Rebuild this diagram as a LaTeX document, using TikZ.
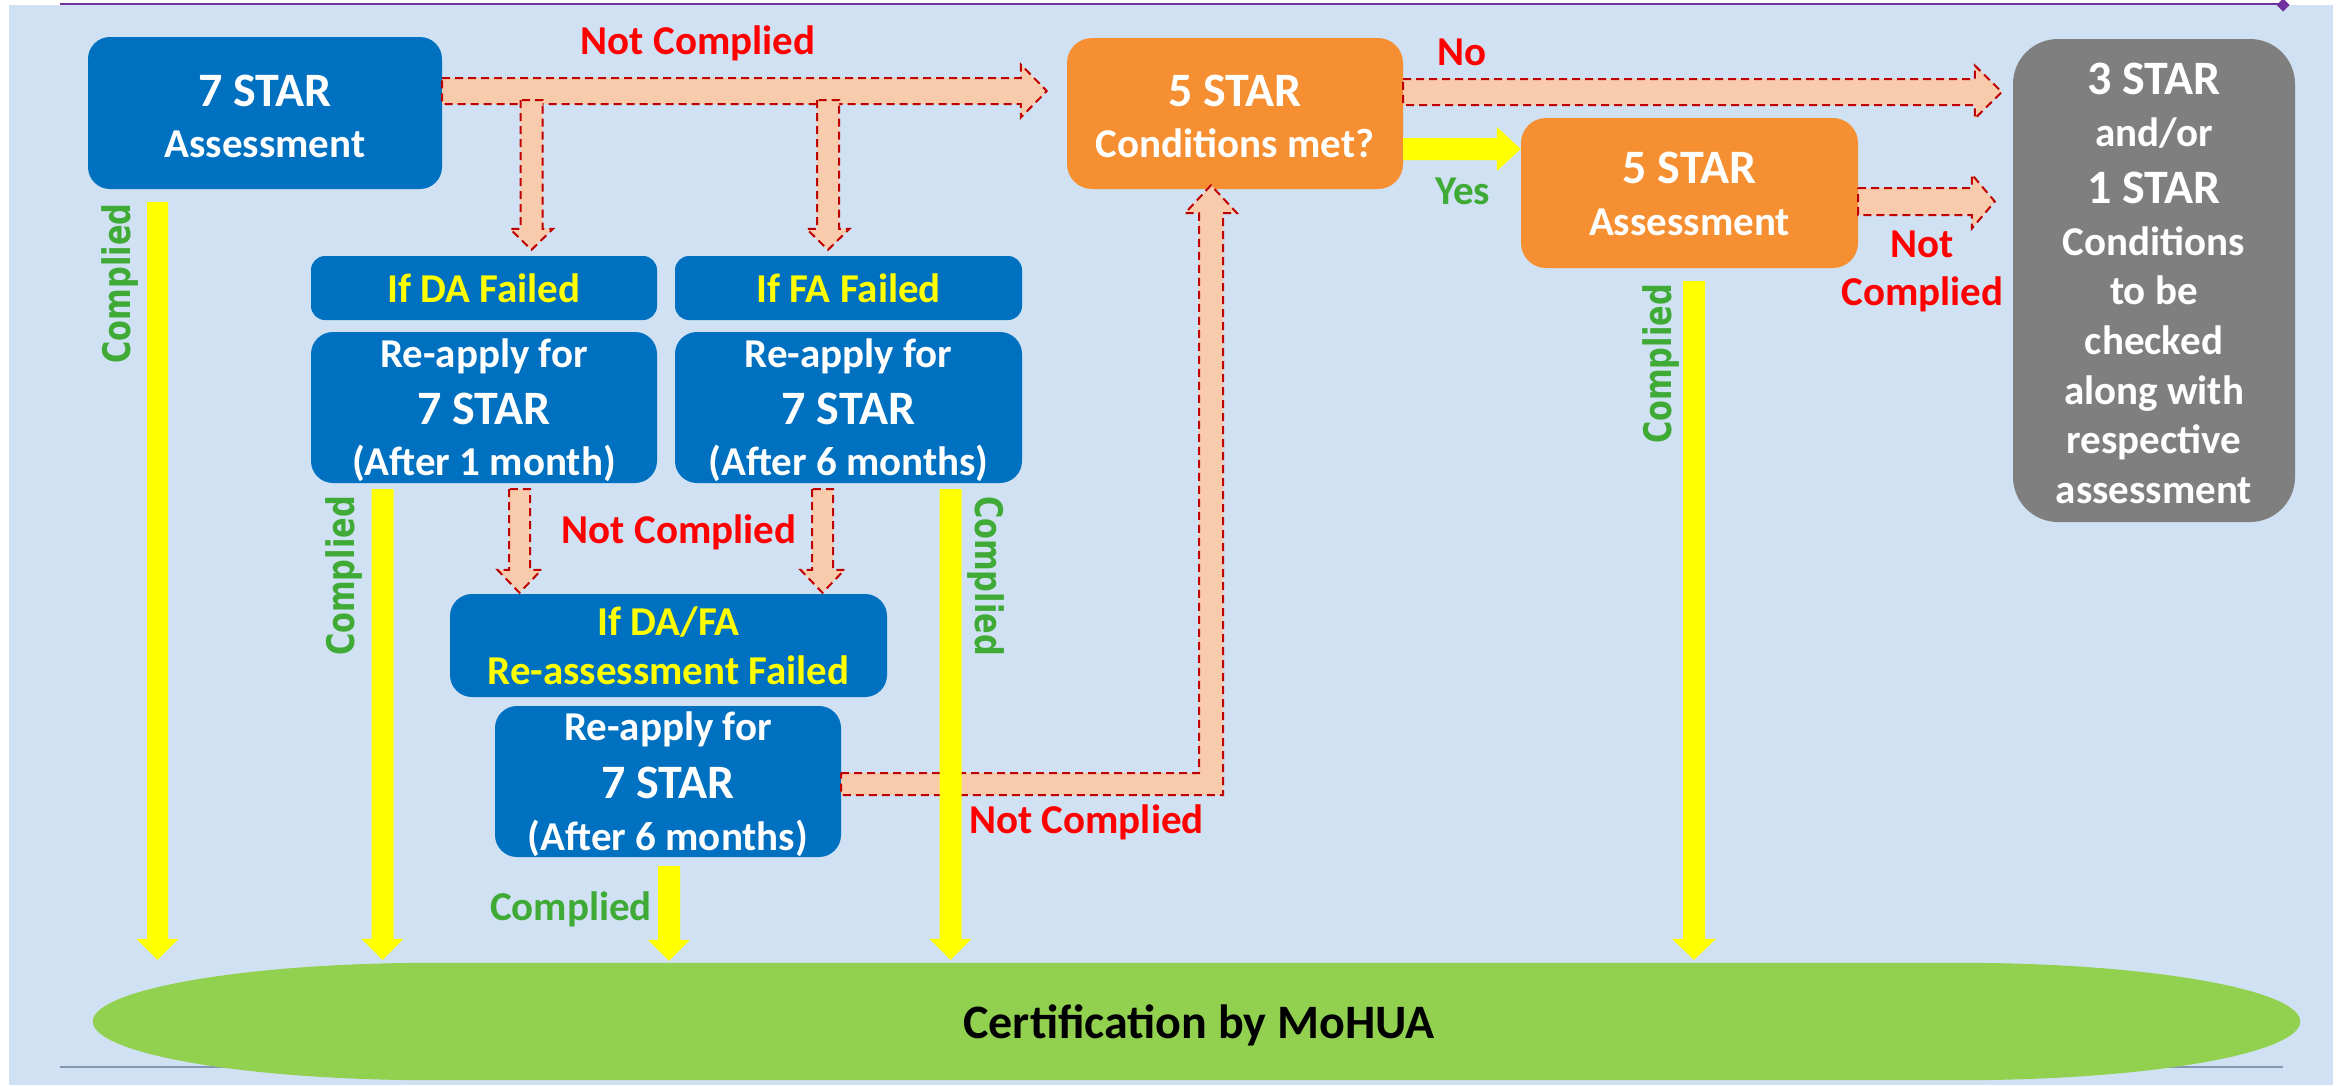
\documentclass[tikz,border=0pt]{standalone}
\usepackage{fontspec}
\setmainfont{Carlito}
\newfontfamily\rotfont[FakeStretch=0.8]{DejaVu Sans}
\usetikzlibrary{calc}
\definecolor{bgblue}{HTML}{CFE1F2}
\definecolor{boxblue}{HTML}{0070C0}
\definecolor{boxorange}{HTML}{F58F31}
\definecolor{boxgray}{HTML}{7F7F7F}
\definecolor{certgreen}{HTML}{92D050}
\definecolor{peach}{HTML}{F8CBAD}
\definecolor{dashred}{HTML}{C00000}
\definecolor{lblred}{HTML}{FF0000}
\definecolor{lblgreen}{HTML}{3FAA35}
\definecolor{ylw}{HTML}{FFFF00}
\definecolor{purp}{HTML}{7030A0}
\definecolor{lineblue}{HTML}{8497B0}

\newcommand{\BlkR}[6]{%
  \path[#1] ($(#2)+(0,-#4)$) -- ($(#2 -| #3)+(-#6,-#4)$) -- ($(#2 -| #3)+(-#6,-#5)$) -- (#2 -| #3) -- ($(#2 -| #3)+(-#6,#5)$) -- ($(#2 -| #3)+(-#6,#4)$) -- ($(#2)+(0,#4)$) -- cycle;}
\newcommand{\BlkD}[6]{%
  \path[#1] ($(#2)+(-#4,0)$) -- ($(#2 |- #3)+(-#4,-#6)$) -- ($(#2 |- #3)+(-#5,-#6)$) -- (#2 |- #3) -- ($(#2 |- #3)+(#5,-#6)$) -- ($(#2 |- #3)+(#4,-#6)$) -- ($(#2)+(#4,0)$) -- cycle;}

\tikzset{
  shapebox/.style={rectangle, inner sep=0pt, draw=none},
  bluebox/.style={shapebox, fill=boxblue, rounded corners=22pt},
  failbox/.style={shapebox, fill=boxblue, rounded corners=14pt},
  orangebox/.style={shapebox, fill=boxorange, rounded corners=25pt},
  graybox/.style={shapebox, fill=boxgray, rounded corners=45pt},
  tbig/.style={anchor=base, inner sep=0pt, text=white, font=\bfseries\fontsize{48}{50}\selectfont},
  tmed/.style={anchor=base, inner sep=0pt, text=white, font=\bfseries\fontsize{41}{43}\selectfont},
  rotlbl/.style={anchor=center, inner sep=0pt, text=lblgreen, font=\rotfont\bfseries\fontsize{38}{38}\selectfont},
  peacharr/.style={fill=peach, draw=dashred, line width=2pt, dash pattern=on 8pt off 5pt, line join=miter},
  yarr/.style={fill=ylw, draw=none}
}

\begin{document}
\begin{tikzpicture}[x=1pt,y=-1pt]
\useasboundingbox (0,0) rectangle (2346,1085);
\fill[white] (0,0) rectangle (2346,1085);
\fill[bgblue] (9,5) rectangle (2333,1085);
\draw[purp, line width=2.5pt] (60,4) -- (2283,4);
\fill[purp] (2283,-1.5) -- (2289.5,5) -- (2283,11.5) -- (2276.5,5) -- cycle;
\draw[lineblue, line width=2.5pt] (60,1067) -- (2283,1067);

% certification terminator
\node[shapebox, minimum width=2207pt, minimum height=117pt] (cert) at (1196.5,1021.5) {};
\fill[certgreen] ($(cert.north west)+(340,0)$) -- ($(cert.north east)+(-340,0)$)
  .. controls ($(cert.north east)+(-152,0)$) and ($(cert.east)+(0,-32)$) .. (cert.east)
  .. controls ($(cert.east)+(0,32)$) and ($(cert.south east)+(-152,0)$) .. ($(cert.south east)+(-340,0)$)
  -- ($(cert.south west)+(340,0)$)
  .. controls ($(cert.south west)+(152,0)$) and ($(cert.west)+(0,32)$) .. (cert.west)
  .. controls ($(cert.west)+(0,-32)$) and ($(cert.north west)+(152,0)$) .. cycle;
\node[tbig, text=black] (certtxt) at (1199,1038) {Certification by MoHUA};

% boxes
\node[bluebox, minimum width=354pt, minimum height=152pt] (a7) at (265,113) {};
\node[orangebox, minimum width=336pt, minimum height=151pt] (c5) at (1235,113.5) {};
\node[orangebox, minimum width=337pt, minimum height=150pt] (a5) at (1689.5,193) {};
\node[graybox, minimum width=282pt, minimum height=483pt] (g) at (2154,280.5) {};
\node[failbox, minimum width=346pt, minimum height=64pt] (dfail) at (484,288) {};
\node[failbox, minimum width=347pt, minimum height=64pt] (ffail) at (848.5,288) {};
\node[bluebox, minimum width=346pt, minimum height=151pt] (rda) at (484,407.5) {};
\node[bluebox, minimum width=347pt, minimum height=151pt] (rfa) at (848.5,407.5) {};
\node[bluebox, minimum width=437pt, minimum height=103pt] (dffail) at (668.5,645.5) {};
\node[bluebox, minimum width=346pt, minimum height=151pt] (r3) at (668,781.5) {};

% dashed block arrows
\coordinate (nc1s) at (a7.east |- 0,91);
\coordinate (nc1t) at ($(c5.west |- 0,91)+(-20,0)$);
\BlkR{peacharr}{nc1s}{nc1t}{13}{26.5}{26}
\coordinate (b1s) at (531.5,100);
\coordinate (b1t) at ($(b1s |- dfail.north)+(0,-6)$);
\BlkD{peacharr}{b1s}{b1t}{11}{21.5}{21}
\coordinate (b2s) at (828,100);
\coordinate (b2t) at ($(b2s |- ffail.north)+(0,-6)$);
\BlkD{peacharr}{b2s}{b2t}{11}{21.5}{21}
\coordinate (n1s) at ($(rda.south)+(35.5,6)$);
\coordinate (n1t) at ($(n1s |- dffail.north)+(0,-1)$);
\BlkD{peacharr}{n1s}{n1t}{10.5}{22}{23}
\coordinate (n2s) at ($(rfa.south)+(-26,6)$);
\coordinate (n2t) at ($(n2s |- dffail.north)+(0,-1)$);
\BlkD{peacharr}{n2s}{n2t}{10.5}{22}{23}
\coordinate (nos) at (c5.east |- 0,92);
\coordinate (not) at ($(g.west |- 0,92)+(-11,0)$);
\BlkR{peacharr}{nos}{not}{13}{26.5}{27}
\coordinate (nc2s) at (a5.east |- 0,201.5);
\coordinate (nc2t) at ($(g.west |- 0,201.5)+(-18,0)$);
\BlkR{peacharr}{nc2s}{nc2t}{13.5}{27}{23}
\coordinate (las) at (r3.east |- 0,784);
\coordinate (lat) at ($(c5.south)+(-24,-4)$);
\path[peacharr] ($(las)+(0,-11)$) -- ($(las -| lat)+(-12,-11)$) -- ($(lat)+(-12,28)$) -- ($(lat)+(-26,28)$) -- (lat) -- ($(lat)+(26,28)$) -- ($(lat)+(12,28)$) -- ($(las -| lat)+(12,11)$) -- ($(las)+(0,11)$) -- cycle;

% yellow arrows
\coordinate (ys) at (c5.east |- 0,149);
\coordinate (yt) at (a5.west |- 0,149);
\BlkR{yarr}{ys}{yt}{11}{22}{24}
\coordinate (y1s) at ($(a7.south -| 157.5,0)+(0,13)$);
\coordinate (y1t) at ($(y1s |- cert.north)+(0,-3)$);
\BlkD{yarr}{y1s}{y1t}{10.5}{21}{21}
\coordinate (y2s) at ($(rda.south -| 382.5,0)+(0,6)$);
\coordinate (y2t) at ($(y2s |- cert.north)+(0,-3)$);
\BlkD{yarr}{y2s}{y2t}{11}{21}{21}
\coordinate (y3s) at ($(r3.south -| 669,0)+(0,9)$);
\coordinate (y3t) at ($(y3s |- cert.north)+(0,-2)$);
\BlkD{yarr}{y3s}{y3t}{11}{21}{21}
\coordinate (y4s) at ($(rfa.south -| 950.5,0)+(0,6)$);
\coordinate (y4t) at ($(y4s |- cert.north)+(0,-3)$);
\BlkD{yarr}{y4s}{y4t}{11}{21}{21}
\coordinate (y5s) at ($(a5.south -| 1694,0)+(0,13)$);
\coordinate (y5t) at ($(y5s |- cert.north)+(0,-3)$);
\BlkD{yarr}{y5s}{y5t}{11}{22}{21}

% box texts
\node[tbig] (a7t1) at (265,106) {7 STAR};
\node[tmed] (a7t2) at (265,157) {Assessment};
\node[tbig] (c5t1) at (1235,106) {5 STAR};
\node[tmed] (c5t2) at (1235,157) {Conditions met?};
\node[tbig] (a5t1) at (1689.5,183) {5 STAR};
\node[tmed] (a5t2) at (1689.5,235) {Assessment};
\node[tbig] (g1) at (2154,94) {3 STAR};
\node[tmed] (g2) at (2154,146) {and/or};
\node[tbig] (g3) at (2154,203) {1 STAR};
\node[tmed] (g4) at (2154,255) {Conditions};
\node[tmed] (g5) at (2154,304) {to be};
\node[tmed] (g6) at (2154,354) {checked};
\node[tmed] (g7) at (2154,404) {along with};
\node[tmed] (g8) at (2154,453) {respective};
\node[tmed] (g9) at (2154,503) {assessment};
\node[tmed, text=ylw] (dft) at (484,302) {If DA Failed};
\node[tmed, text=ylw] (fft) at (848.5,302) {If FA Failed};
\node[tmed] (rda1) at (484,367) {Re-apply for};
\node[tbig] (rda2) at (484,424) {7 STAR};
\node[tmed] (rda3) at (484,475) {(After 1 month)};
\node[tmed] (rfa1) at (848.5,367) {Re-apply for};
\node[tbig] (rfa2) at (848.5,424) {7 STAR};
\node[tmed] (rfa3) at (848.5,475) {(After 6 months)};
\node[tmed, text=ylw] (dff1) at (668.5,635) {If DA/FA};
\node[tmed, text=ylw] (dff2) at (668.5,684) {Re-assessment Failed};
\node[tmed] (r3t1) at (668,740) {Re-apply for};
\node[tbig] (r3t2) at (668,798) {7 STAR};
\node[tmed] (r3t3) at (668,850) {(After 6 months)};

% labels
\node[tmed, text=lblred] (l1) at (698,54) {Not Complied};
\node[tmed, text=lblred] (l2) at (1462,65) {No};
\node[tmed, text=lblgreen] (l3) at (1462.5,204) {Yes};
\node[tmed, text=lblred] (l4) at (1922.5,257) {Not};
\node[tmed, text=lblred] (l5) at (1922.5,305) {Complied};
\node[tmed, text=lblred] (l6) at (679,543) {Not Complied};
\node[tmed, text=lblred] (l7) at (1086.5,833) {Not Complied};
\node[tmed, text=lblgreen] (l8) at (571,920) {Complied};
\node[rotlbl, rotate=90] (rl1) at (120,283.5) {Complied};
\node[rotlbl, rotate=90] (rl2) at (344,576) {Complied};
\node[rotlbl, rotate=-90] (rl4) at (985.5,576) {Complied};
\node[rotlbl, rotate=90] (rl5) at (1660.5,364) {Complied};
\end{tikzpicture}
\end{document}
